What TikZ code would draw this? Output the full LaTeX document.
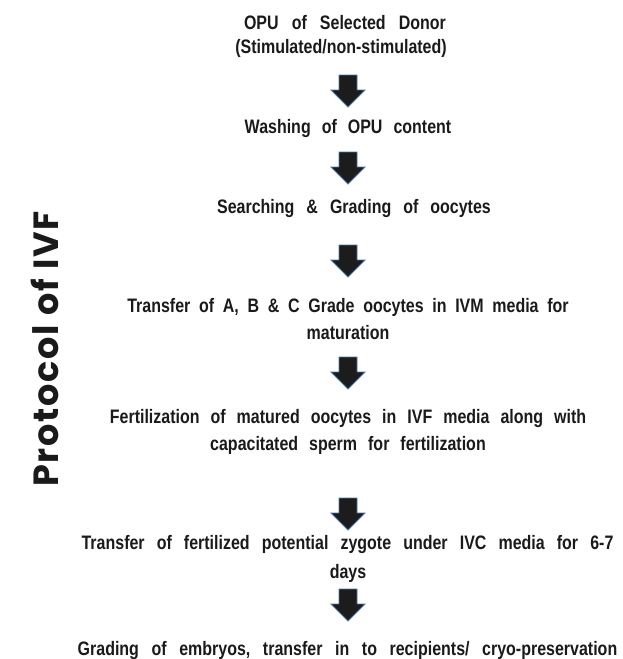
\documentclass[tikz,border=0pt]{standalone}
\usepackage{fontspec}
\newfontfamily\bodyfam[FakeStretch=0.82]{Liberation Sans}
\newfontfamily\titlefam[LetterSpace=5]{Poppins}
\definecolor{inkc}{HTML}{1A1A1A}
\definecolor{arrowfillc}{HTML}{1C1C1C}
\definecolor{arrowedgec}{HTML}{4A78A8}
\newcommand\bodytext{\bodyfam\bfseries\fontsize{19.5}{24}\selectfont}
\newcommand\titletext{\titlefam\bfseries\fontsize{35}{40}\selectfont}
\tikzset{
  txt/.style={font={\bodytext\spaceskip=12pt\relax}, text=inkc, anchor=base, inner sep=0pt},
  wordgap/.style={font={\bodytext\spaceskip=#1pt\relax}},
  blockarrowpath/.style={fill=arrowfillc, draw=arrowedgec, line width=0.8pt, line join=miter},
  downarrow/.pic={\path[blockarrowpath] (-9,0) -- (9,0) -- (9,15) -- (17,15) -- (0,32) -- (-17,15) -- (-9,15) -- cycle;}
}
\begin{document}
\begin{tikzpicture}[x=1pt,y=-1pt]
\useasboundingbox (0,0) rectangle (622,659);
\node[rotate=90, anchor=base, font=\titletext, text=inkc, inner sep=0pt] (title) at (58,349) {Protocol of IVF};
\node[txt, wordgap=13.1] (l1) at (345,29) {OPU of Selected Donor};
\node[txt] (l2) at (341,53) {(Stimulated/non-stimulated)};
\pic at (348,75) {downarrow};
\node[txt, wordgap=11] (l3) at (348,133) {Washing of OPU content};
\pic at (348,152) {downarrow};
\node[txt, wordgap=12] (l4) at (354,213) {Searching \& Grading of oocytes};
\pic at (348,245) {downarrow};
\node[txt, wordgap=8.7] (l5) at (348,312) {Transfer of A, B \& C Grade oocytes in IVM media for};
\node[txt] (l6) at (348,339) {maturation};
\pic at (348,357) {downarrow};
\node[txt, wordgap=11] (l7) at (348,423) {Fertilization of matured oocytes in IVF media along with};
\node[txt, wordgap=11] (l8) at (348,450) {capacitated sperm for fertilization};
\pic at (348,498) {downarrow};
\node[txt, wordgap=12.1] (l9) at (347.5,549) {Transfer of fertilized potential zygote under IVC media for 6-7};
\node[txt] (l10) at (348,578) {days};
\pic at (348,589) {downarrow};
\node[txt, wordgap=12.6] (l11) at (347.5,655) {Grading of embryos, transfer in to recipients/ cryo-preservation};
\end{tikzpicture}
\end{document}
